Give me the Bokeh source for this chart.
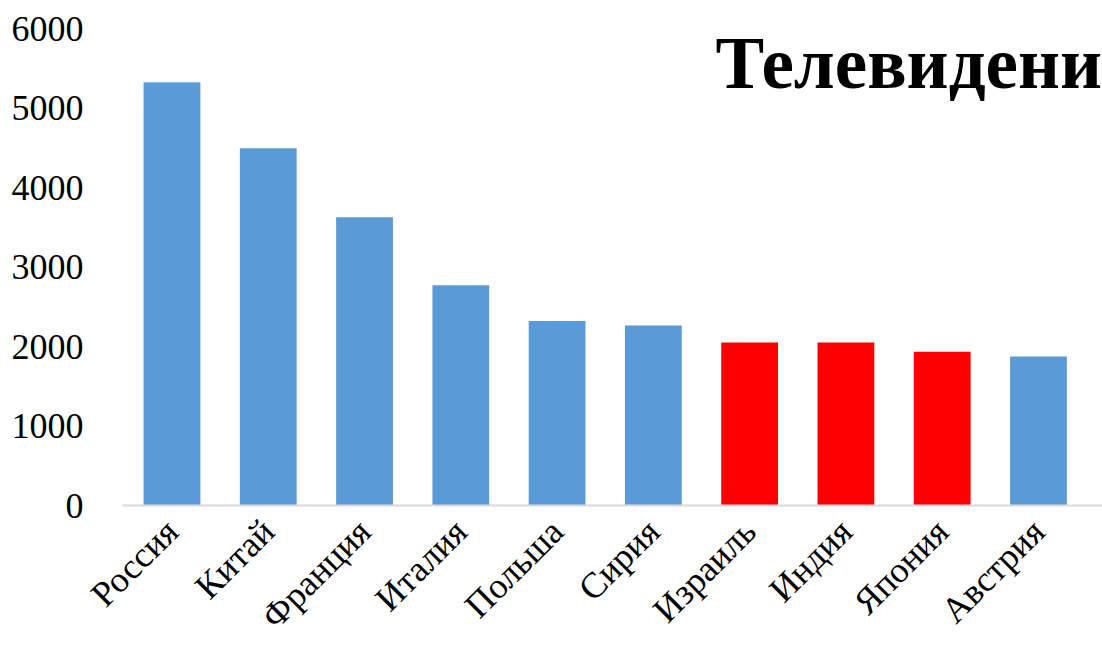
import math
from bokeh.plotting import figure
from bokeh.models import Range1d, FixedTicker, Label, ColumnDataSource
from bokeh.embed import file_html
from bokeh.resources import INLINE

countries = ["Россия", "Китай", "Франция", "Италия", "Польша",
             "Сирия", "Израиль", "Индия", "Япония", "Австрия"]
values = [5325, 4495, 3625, 2770, 2320, 2265, 2050, 2050, 1935, 1875]
highlighted = ["Израиль", "Индия", "Япония"]
title_text = "Телевидени"
y_ticks = [0, 1000, 2000, 3000, 4000, 5000, 6000]

BLUE = "#5B9BD5"
RED = "#FF0000"
FONT = "Liberation Serif"

idx = list(range(len(countries)))
colors = [RED if c in highlighted else BLUE for c in countries]
src = ColumnDataSource(dict(x=idx, top=values, color=colors, name=countries))

p = figure(width=1102, height=653, output_backend="svg", toolbar_location=None,
           x_range=Range1d(-0.514, 9.665), y_range=Range1d(0, 6000),
           min_border_left=122, min_border_right=0, min_border_top=28,
           min_border_bottom=148)

p.vbar(x="x", top="top", width=0.59, fill_color="color", line_color=None, source=src)

p.xgrid.visible = False
p.ygrid.visible = False
p.outline_line_color = None
p.background_fill_color = "white"
p.border_fill_color = "white"

xa = p.xaxis[0]
xa.ticker = FixedTicker(ticks=idx)
xa.major_label_overrides = {i: c for i, c in zip(idx, countries)}
xa.major_label_orientation = math.pi / 4
xa.axis_line_color = "#d9d9d9"
xa.axis_line_width = 2
xa.major_tick_line_color = None
xa.minor_tick_line_color = None
xa.major_label_text_font = FONT
xa.major_label_text_font_size = "36px"
xa.major_label_text_color = "black"
xa.major_label_standoff = 14

ya = p.yaxis[0]
ya.ticker = FixedTicker(ticks=y_ticks)
ya.axis_line_color = None
ya.major_tick_line_color = None
ya.minor_tick_line_color = None
ya.major_label_text_font = FONT
ya.major_label_text_font_size = "36px"
ya.major_label_text_color = "black"
ya.major_label_standoff = 33

p.add_layout(Label(x=593, y=442, x_units="screen", y_units="screen",
                   text=title_text, text_font=FONT, text_font_size="73px",
                   text_font_style="bold", text_color="black",
                   text_baseline="alphabetic", text_align="left"))

open("out.html", "w").write(file_html(p, INLINE))
